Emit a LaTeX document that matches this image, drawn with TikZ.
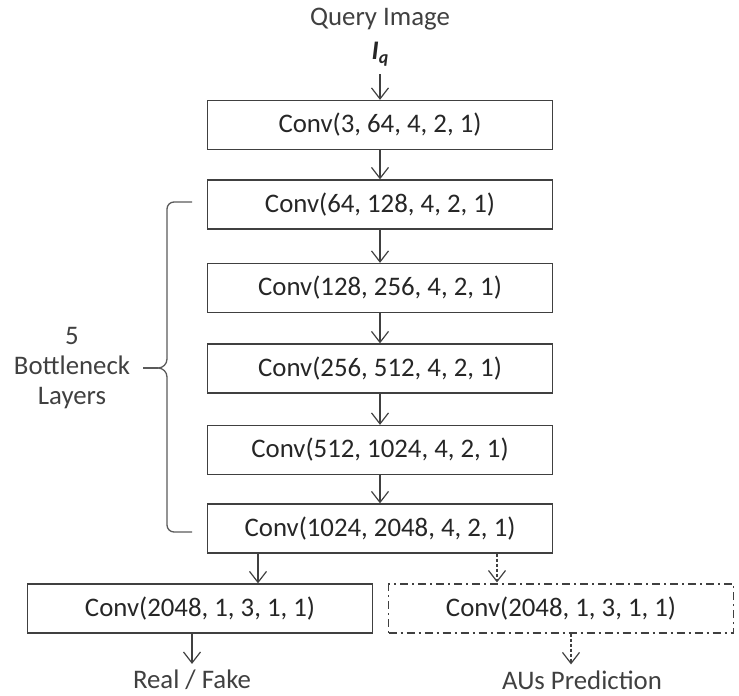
\documentclass[tikz,border=0pt]{standalone}
\usepackage{fontspec}
\setmainfont{Carlito}
\usetikzlibrary{arrows.meta,calc}
\definecolor{lc}{HTML}{404040}
\definecolor{tc}{HTML}{262626}
\definecolor{bc}{HTML}{5A5A5A}
\tikzset{
  layer/.style={draw=lc, line width=1.3pt, minimum width=345pt, minimum height=49pt, inner sep=0pt, font=\fontsize{26.8}{30}\selectfont, text=tc},
  dlayer/.style={layer, dash pattern=on 8pt off 4pt on 2pt off 4pt, line width=1.1pt},
  lbl/.style={font=\fontsize{26.8}{30}\selectfont, text=lc, inner sep=0pt},
  arr/.style={draw=lc, line width=1.2pt, -{Straight Barb[length=11pt,width=17pt,line width=1.2pt]}},
  darr/.style={arr, dash pattern=on 3pt off 2pt},
}
\begin{document}
\begin{tikzpicture}[x=1pt,y=-1pt]
\useasboundingbox (0,0) rectangle (739,696);
\node[lbl] (q) at (380,19) {Query Image};
\node[lbl, text=tc] (iq) at (380,54) {\textbf{\textit{I}}\raisebox{-0.3ex}{\fontsize{18}{20}\selectfont\textbf{\textit{q}}}};
\node[layer] (b1) at (380,125) {Conv(3, 64, 4, 2, 1)};
\node[layer] (b2) at (380,204.5) {Conv(64, 128, 4, 2, 1)};
\node[layer] (b3) at (380,288) {Conv(128, 256, 4, 2, 1)};
\node[layer] (b4) at (380,368.5) {Conv(256, 512, 4, 2, 1)};
\node[layer] (b5) at (380,450) {Conv(512, 1024, 4, 2, 1)};
\node[layer] (b6) at (380,528.5) {Conv(1024, 2048, 4, 2, 1)};
\node[layer] (bl) at (200,608.5) {Conv(2048, 1, 3, 1, 1)};
\node[dlayer] (br) at (561,608.5) {Conv(2048, 1, 3, 1, 1)};
\node[lbl] (rf) at (192,680) {Real / Fake};
\node[lbl] (au) at (582,680) {AUs Prediction};
\node[lbl, align=center] (bn) at (72,368) {5\\[0pt]Bottleneck\\[0pt]Layers};
% arrows
\coordinate (iqa) at (380,74);
\draw[arr] (iqa) -- (b1.north);
\draw[arr] (b1) -- (b2);
\draw[arr] (b2) -- (b3);
\draw[arr] (b3) -- (b4);
\draw[arr] (b4) -- (b5);
\draw[arr] (b5) -- (b6);
\coordinate (xl) at (258,0);
\coordinate (xr) at (497,0);
\draw[arr] (b6.south -| xl) -- (bl.north -| xl);
\draw[darr] (b6.south -| xr) -- ($(br.north -| xr)+(0,-1)$);
\coordinate (xrf) at (192,0);
\coordinate (xau) at (571,0);
\draw[arr] (bl.south -| xrf) -- ($(rf.north -| xrf)+(0,-6)$);
\draw[darr] (br.south -| xau) -- ($(au.north -| xau)+(0,-6)$);
% brace
\coordinate (bt) at (192,202);
\coordinate (bb) at (192,532);
\coordinate (bm) at (158,368);
\draw[bc, line width=1.3pt, line join=round]
  (bt) -- (174,202) to[out=180,in=90] (167,209) -- (167,359)
  to[out=-90,in=0] (bm) to[out=0,in=90] (167,377) -- (167,525)
  to[out=-90,in=180] (174,532) -- (bb);
\coordinate (bl0) at (143,368);
\draw[bc, line width=1.3pt] (bl0) -- (bm);
\end{tikzpicture}
\end{document}
